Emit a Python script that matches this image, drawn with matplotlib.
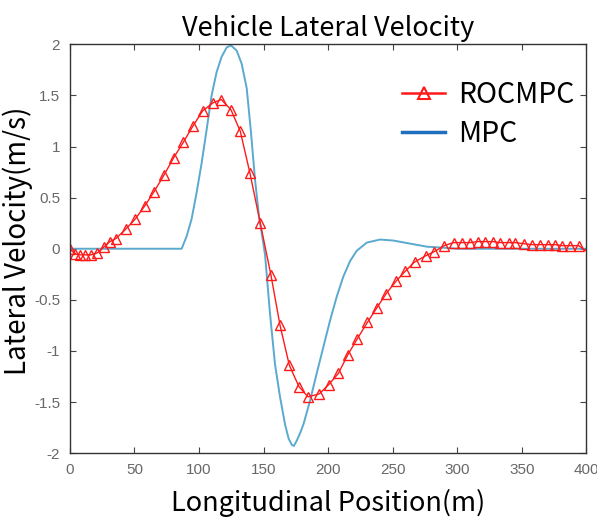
import matplotlib
matplotlib.use("Agg")
import matplotlib.pyplot as plt
from matplotlib.lines import Line2D

# ROCMPC samples (marked)
roc_x = [0, 3.9, 7.8, 11.6, 16.3, 21.4, 26.6, 31.0, 35.7, 43.2, 50.6, 58.1,
         65.3, 72.9, 80.4, 87.8, 95.3, 102.9, 111.1, 117.3, 124.8, 132.0,
         139.5, 147.5, 155.8, 162.8, 170.0, 177.5, 184.5, 193.3, 200.5,
         208.0, 215.2, 222.7, 230.5, 237.7, 245.0, 252.5, 259.8, 267.0,
         275.5, 282.0, 290.0, 297.2, 303.6, 310.1, 315.8, 321.7, 327.7,
         333.3, 339.8, 345.0, 351.4, 357.9, 364.3, 370.0, 376.0, 381.6,
         387.6, 394.1]
roc_y = [0.0, -0.05, -0.06, -0.06, -0.06, -0.04, 0.02, 0.07, 0.10, 0.19,
         0.29, 0.42, 0.56, 0.72, 0.89, 1.04, 1.20, 1.35, 1.43, 1.46, 1.36,
         1.15, 0.74, 0.25, -0.26, -0.75, -1.14, -1.35, -1.45, -1.42, -1.33,
         -1.22, -1.04, -0.88, -0.72, -0.58, -0.44, -0.32, -0.22, -0.13,
         -0.07, -0.03, 0.03, 0.06, 0.06, 0.06, 0.07, 0.07, 0.07, 0.06, 0.06,
         0.06, 0.05, 0.04, 0.04, 0.04, 0.04, 0.03, 0.03, 0.03]

# MPC curve
mpc_x = [0, 86.6, 90.4, 94.3, 98.2, 102.1, 106.0, 109.8, 113.7, 117.6,
         121.5, 124.8, 129.2, 133.1, 137.0, 140.3, 143.4, 146.5, 149.4,
         151.2, 155.0, 158.9, 162.8, 166.7, 169.5, 172.0, 173.5, 175.7,
         178.5, 180.9, 186.0, 191.2, 196.4, 201.6, 206.7, 211.9, 217.1,
         222.2, 230.0, 240.3, 250.6, 263.6, 276.5, 289.4, 300, 400]
mpc_y = [0, 0, 0.12, 0.29, 0.55, 0.84, 1.17, 1.50, 1.73, 1.88, 1.97, 1.99,
         1.94, 1.81, 1.57, 1.14, 0.68, 0.32, 0.09, -0.06, -0.63, -1.13,
         -1.45, -1.72, -1.86, -1.92, -1.93, -1.88, -1.80, -1.72, -1.49,
         -1.22, -0.96, -0.70, -0.47, -0.27, -0.12, -0.02, 0.06, 0.09, 0.08,
         0.05, 0.02, 0.01, 0.0, 0.0]

x_ticks = [0, 50, 100, 150, 200, 250, 300, 350, 400]
y_ticks = [-2, -1.5, -1, -0.5, 0, 0.5, 1, 1.5, 2]
y_tick_labels = ['-2', '-1.5', '-1', '-0.5', '0', '0.5', '1', '1.5', '2']

big_font = ['Noto Sans CJK KR', 'DejaVu Sans']

fig = plt.figure(figsize=(5.97, 5.22), dpi=100)
ax = fig.add_axes([0.117, 0.132, 0.865, 0.783])

ax.plot(mpc_x, mpc_y, color='#5aa9cf', linewidth=1.4)
ax.plot(roc_x + [400], roc_y + [-0.02], color='#ff1a1a', linewidth=1.0,
        marker='^', markersize=7, markerfacecolor='none',
        markeredgewidth=1.0, markevery=list(range(len(roc_x))))

ax.set_xlim(0, 400)
ax.set_ylim(-2, 2)
ax.set_xticks(x_ticks)
ax.set_yticks(y_ticks)
ax.set_yticklabels(y_tick_labels)
ax.tick_params(direction='in', top=True, right=True, length=4,
               labelsize=11, labelcolor='#686868', color='#444444', pad=7)
for lbl in ax.get_xticklabels() + ax.get_yticklabels():
    lbl.set_family('Liberation Sans')
for sp in ax.spines.values():
    sp.set_color('#333333')
    sp.set_linewidth(1.0)

ax.set_title('Vehicle Lateral Velocity', fontsize=19.5, family=big_font, pad=6)
ax.set_xlabel('Longitudinal Position(m)', fontsize=19.5, family=big_font, labelpad=9)
ax.set_ylabel('Lateral Velocity(m/s)', fontsize=20, family=big_font)
ax.yaxis.set_label_coords(-0.071, 0.52)

handles = [
    Line2D([], [], color='#ff1a1a', linewidth=1.8, marker='^', markersize=9,
           markerfacecolor='none', markeredgewidth=1.5),
    Line2D([], [], color='#1f6fbf', linewidth=2.5),
]
ax.legend(handles, ['ROCMPC', 'MPC'], loc='upper right', frameon=False,
          prop={'family': big_font, 'size': 20.5}, handlelength=1.5,
          handletextpad=0.45, bbox_to_anchor=(1.026, 0.975), labelspacing=0.3)

fig.savefig('out.png', dpi=100)
